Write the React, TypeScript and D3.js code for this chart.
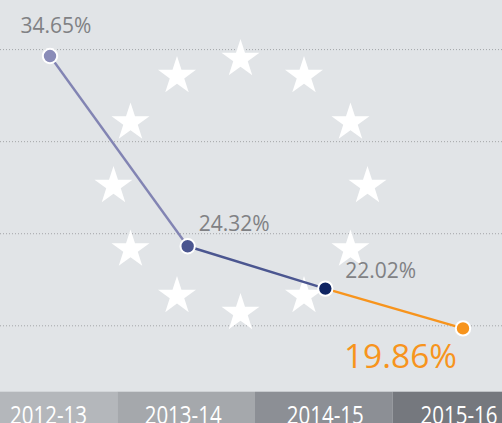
import React from "react";
import * as d3 from "d3";

const periods = ["2012-13", "2013-14", "2014-15", "2015-16"];
const values = [34.65, 24.32, 22.02, 19.86];
const valueLabels = ["34.65%", "24.32%", "22.02%", "19.86%"];
const gridValues = [20, 25, 30, 35];
const pointColors = ["#8a8cb8", "#4b5690", "#0f2462", "#f7941d"];
const segmentColors = ["#8284b3", "#4b5690", "#f7941d"];
const bandColors = ["#b4b7bb", "#a5a8ac", "#8c8f95", "#75787e"];

const W = 502;
const H = 423;

export default function App() {
  const x = d3.scalePoint<string>().domain(periods).range([50, 463]);
  const y = d3.scaleLinear().domain([20, 35]).range([325.8, 49.6]);

  const star = d3.symbol().type(d3.symbolStar).size(449)();
  const cx = 240.5, cy = 186, rr = 127;
  const stars = d3.range(12).map((i) => {
    const a = (i * Math.PI) / 6;
    return [cx + rr * Math.sin(a), cy - rr * Math.cos(a)];
  });

  const pts = periods.map((p, i) => [x(p) as number, y(values[i])]);
  const mids = [0, ...pts.slice(1).map((p, i) => (p[0] + pts[i][0]) / 2 - 1.5), W];

  const labelPos = [
    { dx: 6, dy: -23, anchor: "middle" },
    { dx: 11, dy: -15, anchor: "start" },
    { dx: 20, dy: -11, anchor: "start" },
    { dx: -6, dy: 40, anchor: "end" },
  ];
  const bandShift = [-1.5, -4.5, 0, -4];

  return (
    <svg
      width={W}
      height={H}
      style={{ position: "absolute", left: 0, top: 0, display: "block" }}
      fontFamily="'Open Sans', sans-serif"
    >
      <rect x={0} y={0} width={W} height={H} fill="#e1e4e7" />
      {gridValues.map((g) => (
        <line
          key={g}
          x1={0}
          x2={W}
          y1={y(g)}
          y2={y(g)}
          stroke="#a3a5a8"
          strokeWidth={1}
          strokeDasharray="1 2"
        />
      ))}
      {stars.map((s, i) => (
        <path key={i} d={star as string} transform={`translate(${s[0]},${s[1]})`} fill="#ffffff" />
      ))}
      {pts.slice(1).map((p, i) => (
        <line
          key={i}
          x1={pts[i][0]}
          y1={pts[i][1]}
          x2={p[0]}
          y2={p[1]}
          stroke={segmentColors[i]}
          strokeWidth={2.4}
        />
      ))}
      {pts.map((p, i) => (
        <circle key={i} cx={p[0]} cy={p[1]} r={7.2} fill={pointColors[i]} stroke="#ffffff" strokeWidth={2} />
      ))}
      {pts.map((p, i) => {
        const last = i === pts.length - 1;
        return (
          <text
            key={i}
            x={p[0] + labelPos[i].dx}
            y={p[1] + labelPos[i].dy}
            textAnchor={labelPos[i].anchor as any}
            fontSize={last ? 33.5 : 21}
            fontWeight={last ? 500 : 400}
            fill={last ? "#f7941d" : "#808184"}
          >
            {valueLabels[i]}
          </text>
        );
      })}
      {periods.map((p, i) => (
        <g key={p}>
          <rect x={mids[i]} y={391.7} width={mids[i + 1] - mids[i]} height={H - 391.7} fill={bandColors[i]} />
          <text
            x={(x(p) as number) + bandShift[i]}
            y={423.5}
            textAnchor="middle"
            fontSize={25}
            textLength={77}
            lengthAdjust="spacingAndGlyphs"
            fill="#ffffff"
          >
            {p}
          </text>
        </g>
      ))}
    </svg>
  );
}
